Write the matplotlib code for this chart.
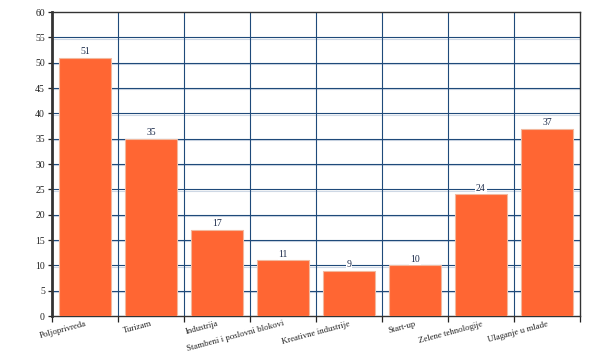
import matplotlib
matplotlib.use("Agg")
import matplotlib.pyplot as plt
import matplotlib.patheffects as pe

categories = ["Poljoprivreda", "Turizam", "Industrija", "Stambeni i poslovni blokovi",
              "Kreativne industrije", "Start-up", "Zelene tehnologije", "Ulaganje u mlade"]
values = [51, 35, 17, 11, 9, 10, 24, 37]
yticks = list(range(0, 61, 5))

grid_color = "#1f4a7a"
bar_color = "#ff6633"
serif = ["Liberation Serif", "DejaVu Serif"]

fig = plt.figure(figsize=(5.9, 3.54), dpi=100)
ax = fig.add_axes([0.088, 0.107, 0.895, 0.859])

x = list(range(len(categories)))
ax.bar(x, values, width=0.79, color=bar_color, edgecolor="#f2b89e", linewidth=0.8, zorder=3)

for xi, v in zip(x, values):
    ax.text(xi, v + 0.3, str(v), ha="center", va="bottom", fontsize=7, family=serif,
            color="#1a2a4a", zorder=4,
            bbox=dict(facecolor="white", edgecolor="none", pad=0.5))

ax.set_xlim(-0.5, len(categories) - 0.5)
ax.set_ylim(0, 60)
ax.set_yticks(yticks)
ax.set_yticklabels([str(t) for t in yticks], family=serif, fontsize=7, color="#222222")

# horizontal grid with a faint shadow below
for t in yticks[1:-1]:
    ax.axhline(t, color=grid_color, linewidth=0.8, zorder=1,
               path_effects=[pe.SimpleLineShadow(offset=(0, -0.9), shadow_color="#9fb3cc", alpha=0.5),
                             pe.Normal()])
# vertical grid at category boundaries
for b in range(1, len(categories)):
    ax.axvline(b - 0.5, color=grid_color, linewidth=0.8, zorder=1)

ax.set_xticks([b - 0.5 for b in range(len(categories) + 1)])
ax.set_xticklabels([])
ax.tick_params(axis="x", length=4, width=0.9, color="#222222")
ax.tick_params(axis="y", length=3, width=0.9, color="#222222", pad=2)

for xi, lab in zip(x, categories):
    ax.text(xi, -0.012, lab, transform=ax.get_xaxis_transform(), rotation=15,
            rotation_mode="anchor", ha="right", va="top", fontsize=6.3, family=serif,
            color="#222222")

for side in ["top", "right", "bottom"]:
    ax.spines[side].set_color("#333333")
    ax.spines[side].set_linewidth(1.0)
ax.spines["left"].set_color("#333333")
ax.spines["left"].set_linewidth(2.0)

fig.savefig("out.png", dpi=100)
